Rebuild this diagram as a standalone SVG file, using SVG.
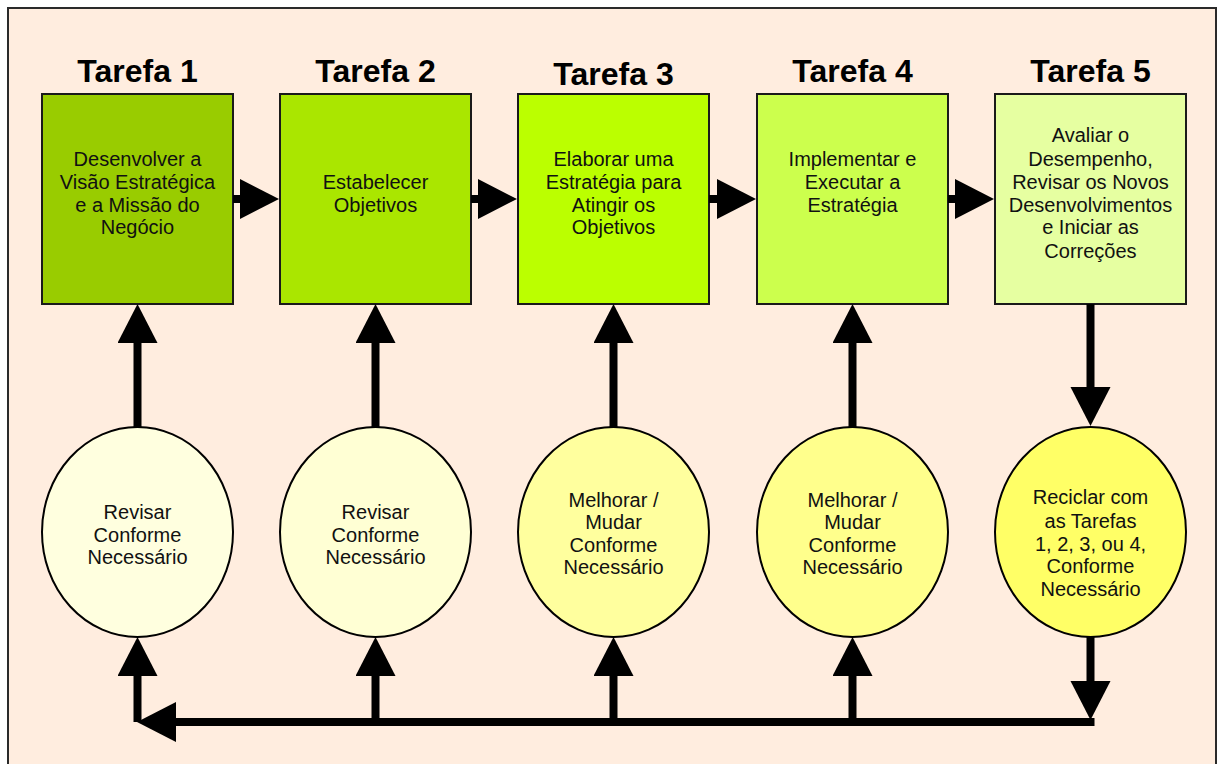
<svg xmlns="http://www.w3.org/2000/svg" width="1218" height="764" viewBox="0 0 1218 764">
  <defs>
    <style>
      .frame { fill: #FFEDDF; stroke: #2a2a2a; stroke-width: 2; }
      .box { stroke: #1a1a1a; stroke-width: 2; }
      .oval { stroke: #000; stroke-width: 2; }
      .title { font-family: "Liberation Sans", Arial, sans-serif; font-weight: bold; font-size: 32px; fill: #000; text-anchor: middle; }
      .lbl { font-family: "Liberation Sans", Arial, sans-serif; font-size: 20px; fill: #111; text-anchor: middle; }
      .arrow { stroke: #000; stroke-width: 8; fill: none; marker-end: url(#head); }
    </style>
    <marker id="head" markerUnits="userSpaceOnUse" markerWidth="40" markerHeight="41" refX="2" refY="20" orient="auto" viewBox="0 0 40 41">
      <path d="M0,0 L39,20 L0,40 Z" fill="#000"/>
    </marker>
  </defs>

  <!-- background panel -->
  <rect class="frame" x="8" y="8" width="1208" height="770"/>

  <!-- task boxes -->
  <g id="tarefa1">
    <text class="title" x="137.5" y="82">Tarefa 1</text>
    <rect class="box" x="42" y="94" width="191" height="210" fill="#99CC00"/>
    <text class="lbl" x="137.5" y="166">Desenvolver a</text>
    <text class="lbl" x="137.5" y="189">Visão Estratégica</text>
    <text class="lbl" x="137.5" y="212">e a Missão do</text>
    <text class="lbl" x="137.5" y="234">Negócio</text>
  </g>
  <g id="tarefa2">
    <text class="title" x="375.5" y="82">Tarefa 2</text>
    <rect class="box" x="280" y="94" width="191" height="210" fill="#AAE600"/>
    <text class="lbl" x="375.5" y="189">Estabelecer</text>
    <text class="lbl" x="375.5" y="212">Objetivos</text>
  </g>
  <g id="tarefa3">
    <text class="title" x="613.5" y="85">Tarefa 3</text>
    <rect class="box" x="518" y="94" width="191" height="210" fill="#BBFF00"/>
    <text class="lbl" x="613.5" y="166">Elaborar uma</text>
    <text class="lbl" x="613.5" y="189">Estratégia para</text>
    <text class="lbl" x="613.5" y="212">Atingir os</text>
    <text class="lbl" x="613.5" y="234">Objetivos</text>
  </g>
  <g id="tarefa4">
    <text class="title" x="852.5" y="82">Tarefa 4</text>
    <rect class="box" x="757" y="94" width="191" height="210" fill="#CCFF4D"/>
    <text class="lbl" x="852.5" y="166">Implementar e</text>
    <text class="lbl" x="852.5" y="189">Executar a</text>
    <text class="lbl" x="852.5" y="212">Estratégia</text>
  </g>
  <g id="tarefa5">
    <text class="title" x="1090.5" y="82">Tarefa 5</text>
    <rect class="box" x="995" y="94" width="191" height="210" fill="#E6FFA1"/>
    <text class="lbl" x="1090.5" y="142">Avaliar o</text>
    <text class="lbl" x="1090.5" y="166">Desempenho,</text>
    <text class="lbl" x="1090.5" y="189">Revisar os Novos</text>
    <text class="lbl" x="1090.5" y="212">Desenvolvimentos</text>
    <text class="lbl" x="1090.5" y="234">e Iniciar as</text>
    <text class="lbl" x="1090.5" y="258">Correções</text>
  </g>

  <!-- review ovals -->
  <g id="revisar1">
    <ellipse class="oval" cx="137.5" cy="532" rx="95.5" ry="105" fill="#FFFFDF"/>
    <text class="lbl" x="137.5" y="519">Revisar</text>
    <text class="lbl" x="137.5" y="542">Conforme</text>
    <text class="lbl" x="137.5" y="564">Necessário</text>
  </g>
  <g id="revisar2">
    <ellipse class="oval" cx="375.5" cy="532" rx="95.5" ry="105" fill="#FFFFD4"/>
    <text class="lbl" x="375.5" y="519">Revisar</text>
    <text class="lbl" x="375.5" y="542">Conforme</text>
    <text class="lbl" x="375.5" y="564">Necessário</text>
  </g>
  <g id="melhorar3">
    <ellipse class="oval" cx="613.5" cy="532" rx="95.5" ry="105" fill="#FFFF9E"/>
    <text class="lbl" x="613.5" y="507">Melhorar /</text>
    <text class="lbl" x="613.5" y="529">Mudar</text>
    <text class="lbl" x="613.5" y="552">Conforme</text>
    <text class="lbl" x="613.5" y="574">Necessário</text>
  </g>
  <g id="melhorar4">
    <ellipse class="oval" cx="852.5" cy="532" rx="95.5" ry="105" fill="#FFFF8C"/>
    <text class="lbl" x="852.5" y="507">Melhorar /</text>
    <text class="lbl" x="852.5" y="529">Mudar</text>
    <text class="lbl" x="852.5" y="552">Conforme</text>
    <text class="lbl" x="852.5" y="574">Necessário</text>
  </g>
  <g id="reciclar5">
    <ellipse class="oval" cx="1090.5" cy="532" rx="95.5" ry="105" fill="#FFFF66"/>
    <text class="lbl" x="1090.5" y="504">Reciclar com</text>
    <text class="lbl" x="1090.5" y="528">as Tarefas</text>
    <text class="lbl" x="1090.5" y="551">1, 2, 3, ou 4,</text>
    <text class="lbl" x="1090.5" y="573">Conforme</text>
    <text class="lbl" x="1090.5" y="596">Necessário</text>
  </g>

  <!-- connectors -->
  <g id="connectors">
    <!-- task to task -->
    <line class="arrow" x1="233" y1="199" x2="242" y2="199"/>
    <line class="arrow" x1="471" y1="199" x2="480" y2="199"/>
    <line class="arrow" x1="709" y1="199" x2="719" y2="199"/>
    <line class="arrow" x1="948" y1="199" x2="957" y2="199"/>
    <!-- ovals feeding tasks 1-4 -->
    <line class="arrow" x1="137.5" y1="427" x2="137.5" y2="341"/>
    <line class="arrow" x1="375.5" y1="427" x2="375.5" y2="341"/>
    <line class="arrow" x1="613.5" y1="427" x2="613.5" y2="341"/>
    <line class="arrow" x1="852.5" y1="427" x2="852.5" y2="341"/>
    <!-- task 5 down to recycle oval -->
    <line class="arrow" x1="1090.5" y1="304" x2="1090.5" y2="389"/>
    <!-- recycle oval down to return line -->
    <line class="arrow" x1="1090.5" y1="637" x2="1090.5" y2="683"/>
    <!-- return line running left -->
    <line class="arrow" x1="1094.5" y1="722" x2="174" y2="722"/>
    <!-- return line up into each oval -->
    <line class="arrow" x1="137.5" y1="722" x2="137.5" y2="674"/>
    <line class="arrow" x1="375.5" y1="726" x2="375.5" y2="674"/>
    <line class="arrow" x1="613.5" y1="726" x2="613.5" y2="674"/>
    <line class="arrow" x1="852.5" y1="726" x2="852.5" y2="674"/>
  </g>
</svg>
